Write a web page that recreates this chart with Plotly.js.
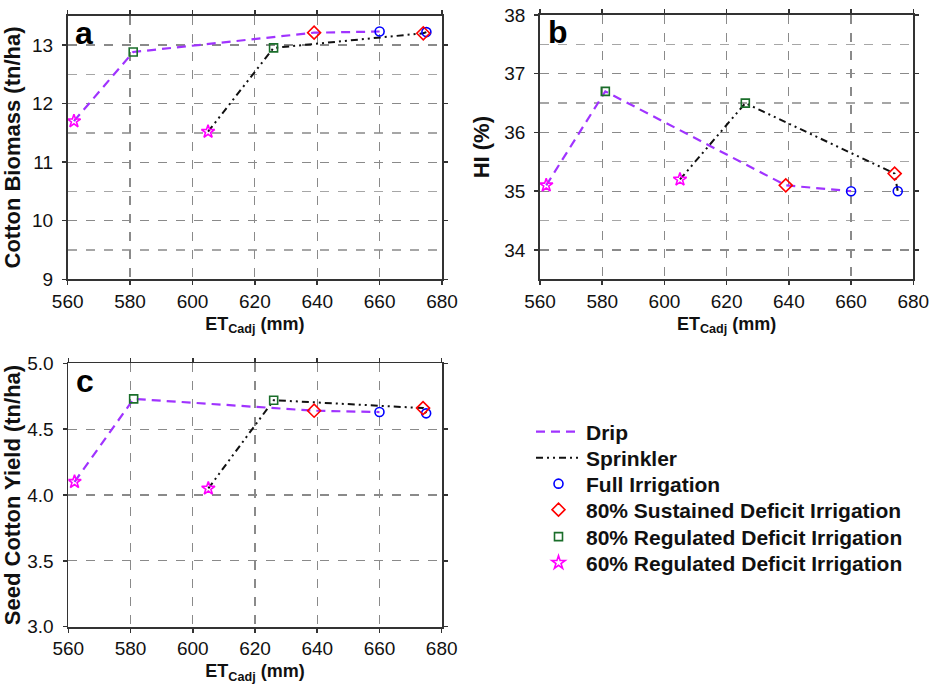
<!DOCTYPE html>
<html>
<head>
<meta charset="utf-8">
<script src="https://cdn.plot.ly/plotly-3.0.1.min.js"></script>
<style>html,body{margin:0;padding:0;background:#fff;}#chart{width:936px;height:690px;}</style>
</head>
<body>
<div id="chart"></div>
<script>
// ---- data ----
const treatments = ["Full Irrigation", "80% Sustained Deficit Irrigation", "80% Regulated Deficit Irrigation", "60% Regulated Deficit Irrigation"];
const systems = ["Drip", "Sprinkler"];
const etDrip = [660, 639, 581, 562];
const etSprinkler = [675, 674, 626, 605];
const biomassDrip = [13.23, 13.21, 12.88, 11.7];
const biomassSprinkler = [13.22, 13.2, 12.95, 11.52];
const hiDrip = [35.0, 35.1, 36.7, 35.1];
const hiSprinkler = [35.0, 35.3, 36.5, 35.2];
const yieldDrip = [4.63, 4.64, 4.73, 4.1];
const yieldSprinkler = [4.62, 4.66, 4.72, 4.05];
const xTicks = [560, 580, 600, 620, 640, 660, 680];
const panelLabels = ["a", "b", "c"];

// ---- styles ----
const FONT = "Arial, 'Liberation Sans', Helvetica, sans-serif";
const markerStyles = [
  {symbol: "circle-open", color: "#0000ff", size: 9},
  {symbol: "diamond-open", color: "#ff0000", size: 10},
  {symbol: "square-open", color: "#1a6e2a", size: 8},
  {symbol: "star-open", color: "#ff00ff", size: 10}
];
const dripLine = {color: "#a033ff", width: 2.2, dash: "9px,6px"};
const sprinklerLine = {color: "#111111", width: 2, dash: "7px,4px,2px,4px,2px,4px"};

function sortedPairs(xs, ys) {
  const idx = xs.map((_, i) => i).sort((a, b) => xs[a] - xs[b]);
  return {x: idx.map(i => xs[i]), y: idx.map(i => ys[i])};
}

const panels = [
  {drip: biomassDrip, spr: biomassSprinkler, xa: "x", ya: "y"},
  {drip: hiDrip, spr: hiSprinkler, xa: "x2", ya: "y2"},
  {drip: yieldDrip, spr: yieldSprinkler, xa: "x3", ya: "y3"}
];
const legendIds = ["legend", "legend2", "legend3", "legend4", "legend5", "legend6"];

const traces = [];
panels.forEach((p, pi) => {
  const d = sortedPairs(etDrip, p.drip);
  const s = sortedPairs(etSprinkler, p.spr);
  traces.push({x: d.x, y: d.y, xaxis: p.xa, yaxis: p.ya, mode: "lines", name: systems[0],
    line: dripLine, showlegend: pi === 0, legend: legendIds[0], hoverinfo: "skip"});
  traces.push({x: s.x, y: s.y, xaxis: p.xa, yaxis: p.ya, mode: "lines", name: systems[1],
    line: sprinklerLine, showlegend: pi === 0, legend: legendIds[1], hoverinfo: "skip"});
});
panels.forEach((p, pi) => {
  treatments.forEach((t, ti) => {
    const ms = markerStyles[ti];
    traces.push({x: [etDrip[ti], etSprinkler[ti]], y: [p.drip[ti], p.spr[ti]],
      xaxis: p.xa, yaxis: p.ya, mode: "markers", name: t, showlegend: pi === 0, legend: legendIds[2 + ti],
      marker: {symbol: ms.symbol, size: ms.size, color: ms.color, line: {color: ms.color, width: 1.6}}});
  });
});

const tickFont = {family: FONT, size: 19, color: "#111"};
function xAxis(domain, anchor) {
  return {domain: domain, anchor: anchor, range: [560, 680], tickvals: xTicks, ticktext: xTicks.map(String),
    ticks: "outside", ticklen: 4, tickwidth: 1.5, tickcolor: "#333",
    showline: true, linecolor: "#333", linewidth: 1.8, mirror: "ticks",
    showgrid: true, gridcolor: "#8a8a8a", griddash: "dash", gridwidth: 1.2, zeroline: false,
    tickfont: tickFont, automargin: false, ticklabelstandoff: 0,
    title: {text: "ET<sub>Cadj</sub> (mm)", font: {family: FONT, size: 18, weight: "bold", color: "#111"}, standoff: 6}};
}
function yAxis(domain, anchor, range, tick0, dtick, minorVals, titleText, fmt) {
  const ax = {domain: domain, anchor: anchor, range: range, dtick: dtick, tick0: tick0,
    ticks: "outside", ticklen: 4, tickwidth: 1.5, tickcolor: "#333",
    showline: true, linecolor: "#333", linewidth: 1.8, mirror: "ticks",
    showgrid: true, gridcolor: "#8a8a8a", griddash: "dash", gridwidth: 1.2, zeroline: false,
    tickfont: tickFont, automargin: false, ticklabelstandoff: 5,
    title: {text: titleText, font: {family: FONT, size: 22, weight: "bold", color: "#111"}, standoff: 8}};
  if (fmt) ax.tickformat = fmt;
  if (minorVals) ax.minor = {tickmode: "array", tickvals: minorVals, showgrid: true,
    gridcolor: "#a6a6a6", griddash: "dash", gridwidth: 1.3, ticks: ""};
  return ax;
}

const W = 936, H = 690;
const legendCentersY = [432, 458, 484, 510, 537, 563];
const legendFont = {family: FONT, size: 21, weight: "bold", color: "#111"};
const minorA = [9.5, 10.5, 11.5, 12.5, 13.5];
const minorB = [34.5, 35.5, 36.5, 37.5];

const layout = {
  width: W, height: H,
  margin: {l: 0, r: 0, t: 0, b: 0},
  paper_bgcolor: "#fff", plot_bgcolor: "#fff",
  font: {family: FONT, color: "#111"},
  showlegend: true,
  xaxis: xAxis([67.7 / W, 442 / W], "y"),
  yaxis: yAxis([1 - 279.3 / H, 1 - 15.7 / H], "x", [9, 13.5], 9, 1, minorA, "Cotton Biomass (tn/ha)"),
  xaxis2: xAxis([540 / W, 913.3 / W], "y2"),
  yaxis2: yAxis([1 - 279.3 / H, 1 - 15 / H], "x2", [33.5, 38], 34, 1, minorB, "HI (%)"),
  xaxis3: xAxis([68.3 / W, 441.7 / W], "y3"),
  yaxis3: yAxis([1 - 626.7 / H, 1 - 363.3 / H], "x3", [3, 5], 3, 0.5, null, "Seed Cotton Yield (tn/ha)", ".1f"),
  annotations: panelLabels.map((lab, i) => ({
    text: lab, xref: (i === 0 ? "x" : "x" + (i + 1)) + " domain", yref: (i === 0 ? "y" : "y" + (i + 1)) + " domain",
    x: 0.015, y: 1.01, xanchor: "left", yanchor: "top", showarrow: false,
    font: {family: FONT, size: 32, weight: "bold", color: "#000"}
  }))
};
legendIds.forEach((id, i) => {
  layout[id] = {x: 531 / W, y: 1 - legendCentersY[i] / H, xanchor: "left", yanchor: "middle",
    bgcolor: "rgba(0,0,0,0)", borderwidth: 0, font: legendFont, itemwidth: 45};
});

Plotly.newPlot("chart", traces, layout, {staticPlot: true, displayModeBar: false});
</script>
</body>
</html>
